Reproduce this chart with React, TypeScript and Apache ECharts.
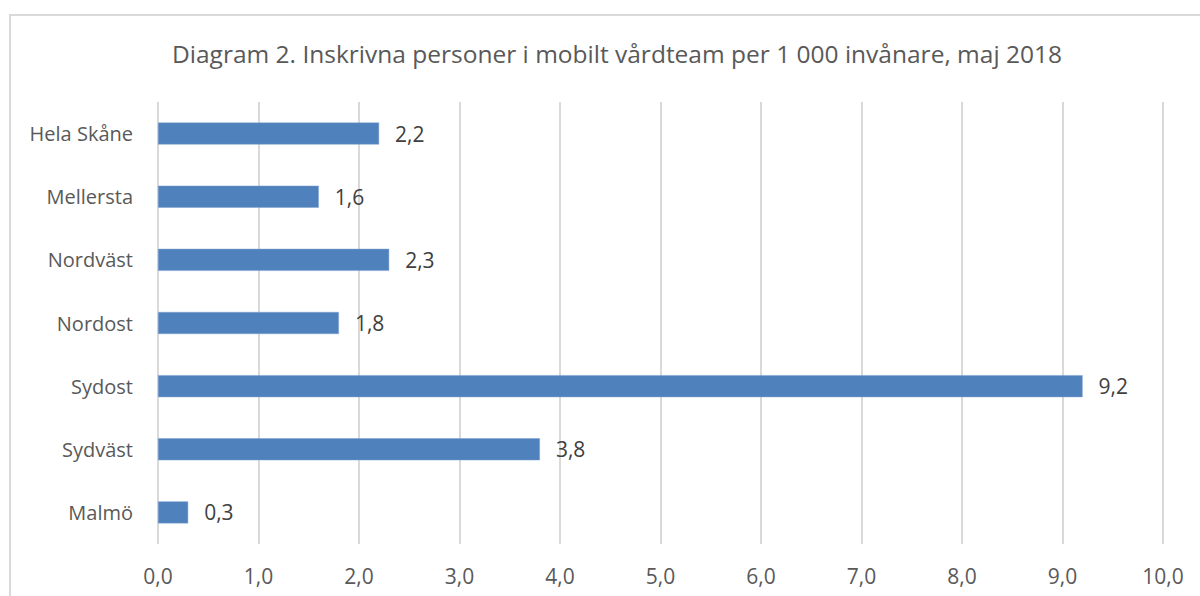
import React, { useEffect, useRef } from "react";
import * as echarts from "echarts";

const categories = ["Malmö", "Sydväst", "Sydost", "Nordost", "Nordväst", "Mellersta", "Hela Skåne"];
const values = [0.3, 3.8, 9.2, 1.8, 2.3, 1.6, 2.2];
const titleText = "Diagram 2. Inskrivna personer i mobilt vårdteam per 1 000 invånare, maj 2018";

const FONT = "'Open Sans', Lato, sans-serif";
const fmt = (v: number) => v.toFixed(1).replace(".", ",");

export default function App() {
  const ref = useRef<HTMLDivElement>(null);
  useEffect(() => {
    if (!ref.current) return;
    const chart = echarts.init(ref.current, undefined, { renderer: "svg" });
    chart.setOption({
      animation: false,
      backgroundColor: "#ffffff",
      textStyle: { fontFamily: FONT },
      title: {
        text: titleText,
        left: 612,
        top: 36,
        textAlign: "center",
        textStyle: { fontFamily: FONT, fontSize: 24.5, fontWeight: "normal", color: "#595959" },
      },
      graphic: [
        {
          type: "rect",
          shape: { x: 10, y: 15, width: 1200, height: 600 },
          style: { fill: "none", stroke: "#d9d9d9", lineWidth: 2 },
          silent: true,
        },
      ],
      grid: { left: 158, right: 37, top: 102, bottom: 52 },
      xAxis: {
        type: "value",
        min: 0,
        max: 10,
        interval: 1,
        axisLine: { show: false },
        axisTick: { show: false },
        splitLine: { lineStyle: { color: "#d9d9d9", width: 2 } },
        axisLabel: { formatter: (v: number) => fmt(v), color: "#595959", fontSize: 21, fontFamily: FONT, margin: 21 },
      },
      yAxis: {
        type: "category",
        data: categories,
        axisLine: { show: false },
        axisTick: { show: false },
        axisLabel: { color: "#595959", fontSize: 20, fontFamily: FONT, margin: 25 },
      },
      series: [
        {
          type: "bar",
          data: values,
          barWidth: 22,
          itemStyle: { color: "#4f81bd", borderColor: "#7fa3d0", borderWidth: 0.5 },
          label: {
            show: true,
            position: "right",
            distance: 16,
            formatter: (p: any) => fmt(p.value),
            color: "#404040",
            fontSize: 21,
            fontFamily: FONT,
          },
        },
      ],
    });
    return () => chart.dispose();
  }, []);
  return <div ref={ref} style={{ position: "fixed", left: 0, top: 0, width: 1200, height: 596 }} />;
}
